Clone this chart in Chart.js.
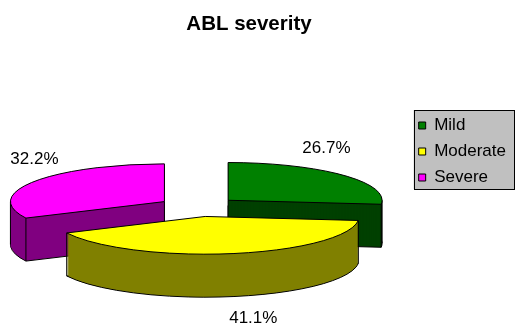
<!DOCTYPE html>
<html>
<head>
<meta charset="utf-8">
<script src="https://cdn.jsdelivr.net/npm/chart.js@4"></script>
<style>
  html, body { margin: 0; padding: 0; background: #fff; }
</style>
</head>
<body>
<canvas id="chart" width="516" height="325"></canvas>
<script>
// Slices
const categories = ['Mild', 'Moderate', 'Severe'];
const percentages = [26.7, 41.1, 32.2];
const topColors = ['#008000', '#ffff00', '#ff00ff'];
const sideColors = ['#004000', '#808000', '#800080'];

// 3D look of the pie
const tilt = 0.245;   // vertical squash of the pie plane
const depth = 43;     // thickness in px
const legendGap = 13; // extra room kept free left of the legend

const FONT = "'Liberation Sans', Arial, sans-serif";
Chart.defaults.font.family = FONT;
Chart.defaults.color = '#000';

function slicePath(ctx, x, y, r, a0, a1) {
  ctx.beginPath();
  ctx.moveTo(x, y);
  ctx.ellipse(x, y, r, r * tilt, 0, a0, a1);
  ctx.closePath();
}

function inside(t, a0, a1) {
  return t > a0 && t < a1;
}

const pie3d = {
  id: 'pie3d',
  afterLayout(chart) {
    const area = chart.chartArea;
    area.right -= legendGap;
    area.width -= legendGap;
  },
  beforeDraw(chart) {
    // grey legend frame
    const lg = chart.legend;
    const hb = lg.legendHitBoxes;
    if (!hb || !hb.length) return;
    const ctx = chart.ctx;
    const left = hb[0].left - 5;
    const top = hb[0].top - 7;
    const last = hb[hb.length - 1];
    const bottom = last.top + last.height + 3;
    const right = lg.right - 2;
    ctx.save();
    ctx.fillStyle = '#c0c0c0';
    ctx.strokeStyle = '#000';
    ctx.lineWidth = 1;
    ctx.fillRect(left, top, right - left, bottom - top);
    ctx.strokeRect(Math.round(left) + 0.5, Math.round(top) + 0.5, Math.round(right - left), Math.round(bottom - top));
    ctx.restore();
  },
  beforeDatasetsDraw(chart) {
    const ctx = chart.ctx;
    const arcs = chart.getDatasetMeta(0).data;

    const slices = arcs.map((arc, i) => {
      const mid = (arc.startAngle + arc.endAngle) / 2;
      const explode = arc.options.offset || 0;
      return {
        i, arc, mid,
        ox: arc.x + Math.cos(mid) * explode,
        oy: arc.y + Math.sin(mid) * explode * tilt
      };
    });

    // back to front
    const order = slices.slice().sort((a, b) => Math.sin(a.mid) - Math.sin(b.mid));

    ctx.save();
    ctx.lineWidth = 1;
    ctx.strokeStyle = '#000';
    ctx.lineJoin = 'round';
    order.forEach(sl => {
      const { arc, ox, oy, i } = sl;
      const r = arc.outerRadius;
      const a0 = arc.startAngle, a1 = arc.endAngle;

      // side walls, stacked from the bottom up
      for (let d = depth; d >= 1; d--) {
        slicePath(ctx, ox, oy + d, r, a0, a1);
        ctx.fillStyle = sideColors[i];
        ctx.fill();
        if (d === depth) ctx.stroke();
      }

      // vertical edges
      const edges = [];
      if (Math.sin(sl.mid) < 0) edges.push([ox, oy]);
      [a0, a1].forEach(a => {
        if (Math.sin(a) >= -0.01) edges.push([ox + Math.cos(a) * r, oy + Math.sin(a) * r * tilt]);
      });
      [-Math.PI, 0, Math.PI, 2 * Math.PI].forEach(t => {
        if (inside(t, a0, a1)) edges.push([ox + Math.cos(t) * r, oy]);
      });
      edges.forEach(([x, y]) => {
        ctx.beginPath();
        ctx.moveTo(x, y);
        ctx.lineTo(x, y + depth);
        ctx.stroke();
      });

      // top face
      slicePath(ctx, ox, oy, r, a0, a1);
      ctx.fillStyle = topColors[i];
      ctx.fill();
      ctx.stroke();
    });

    // percentage labels
    ctx.font = '17px ' + FONT;
    ctx.fillStyle = '#000';
    ctx.textBaseline = 'middle';
    slices.forEach(sl => {
      const r = sl.arc.outerRadius;
      const c = Math.cos(sl.mid), s = Math.sin(sl.mid);
      const lx = sl.ox + c * r * 0.74 + s * 9 - 4.5;
      const ly = sl.oy + s * r * tilt * 1.78 - 7 + (s > 0 ? depth : 0);
      ctx.textAlign = c >= 0 ? 'left' : 'right';
      ctx.fillText(percentages[sl.i].toFixed(1) + '%', lx, ly);
    });
    ctx.restore();
    return false;
  }
};

new Chart(document.getElementById('chart'), {
  type: 'pie',
  data: {
    labels: categories,
    datasets: [{
      data: percentages,
      backgroundColor: topColors,
      borderColor: '#000',
      borderWidth: 1,
      radius: 154,
      offset: 40
    }]
  },
  options: {
    responsive: false,
    animation: false,
    events: [],
    layout: { padding: { left: -18, right: 0, top: 0, bottom: 22 } },
    plugins: {
      title: {
        display: true,
        text: 'ABL severity',
        color: '#000',
        font: { size: 20.5, weight: 'bold', family: FONT },
        padding: { top: 12, bottom: 74 }
      },
      legend: {
        position: 'right',
        labels: {
          boxWidth: 7,
          boxHeight: 7,
          padding: 9,
          color: '#000',
          font: { size: 17, family: FONT }
        }
      },
      tooltip: { enabled: false }
    }
  },
  plugins: [pie3d]
});
</script>
</body>
</html>
